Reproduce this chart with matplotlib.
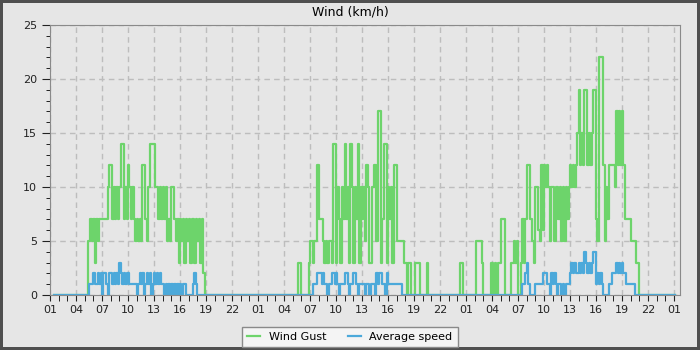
import numpy as np
import matplotlib
matplotlib.use("Agg")
import matplotlib.pyplot as plt
from matplotlib.ticker import MultipleLocator

# hours since 01:00 of the first day, one value every 10 minutes
series_start = 0.5
series_end = 72.1

d1_start = 4.33
d1_gust = [5, 5, 7, 5, 7, 3, 7, 5, 7, 7, 7, 7, 7, 7, 10, 12, 12, 7, 10, 7,
           10, 7, 10, 14, 14, 7, 10, 7, 12, 10, 7, 10, 7, 5, 7, 5, 7, 5, 12, 12,
           7, 5, 10, 14, 14, 14, 14, 10, 10, 7, 10, 7, 10, 7, 10, 5, 7, 5, 10, 10,
           7, 5, 7, 3, 7, 5, 7, 3, 7, 5, 7, 3, 7, 7, 3, 7, 5, 7, 3, 7,
           2, 0]
d1_avg = [0, 1, 1, 1, 2, 1, 1, 2, 1, 2, 0, 2, 2, 1, 0, 2, 2, 1, 2, 1,
          2, 1, 3, 2, 1, 2, 1, 2, 2, 1, 1, 1, 1, 1, 0, 1, 2, 1, 2, 0,
          1, 2, 1, 2, 0, 1, 2, 1, 2, 1, 2, 1, 1, 0, 1, 0, 1, 0, 1, 0,
          1, 0, 1, 0, 1, 0, 1, 1, 0, 0, 0, 0, 0, 1, 2, 1, 0, 0, 0, 0,
          0, 0]

d2_start = 28.5
d2_gust = [0, 3, 3, 0, 0, 0, 0, 0, 3, 5, 5, 3, 5, 5, 12, 7, 7, 7, 5, 3,
           5, 3, 5, 5, 3, 14, 14, 3, 10, 7, 3, 10, 7, 14, 7, 10, 3, 14, 10, 3,
           10, 7, 14, 3, 10, 7, 10, 5, 12, 10, 3, 3, 10, 12, 12, 5, 17, 17, 3, 7,
           14, 14, 3, 10, 7, 10, 3, 12, 12, 5, 5, 5, 5, 5, 3, 3, 0, 3, 3, 0,
           0, 0, 3, 3, 3, 0, 0, 0, 0, 0, 3, 0, 0]
d2_avg = [0, 0, 0, 0, 0, 0, 0, 0, 0, 0, 0, 1, 1, 1, 2, 2, 2, 1, 2, 1,
          1, 0, 1, 1, 2, 2, 1, 2, 1, 0, 1, 1, 1, 2, 2, 1, 0, 1, 1, 2,
          2, 1, 0, 1, 1, 1, 1, 0, 1, 1, 0, 1, 1, 1, 0, 2, 1, 2, 2, 1,
          1, 0, 2, 1, 1, 1, 1, 1, 1, 1, 1, 1, 1, 0, 0, 0, 0, 0, 0, 0,
          0, 0, 0, 0, 0, 0, 0, 0, 0, 0, 0, 0, 0]

d3_start = 47.0
d3_gust = [0, 0, 3, 3, 0, 0, 0, 0, 0, 0, 0, 0, 0, 5, 5, 5, 5, 3, 0, 0,
           0, 0, 0, 3, 3, 0, 3, 0, 3, 3, 7, 7, 7, 0, 0, 0, 0, 3, 3, 5,
           3, 5, 0, 0, 3, 7, 3, 7, 12, 12, 7, 7, 5, 3, 10, 10, 6, 5, 12, 6,
           12, 10, 12, 10, 5, 10, 10, 5, 10, 10, 7, 10, 5, 10, 5, 10, 7, 10, 12, 10,
           12, 10, 12, 15, 19, 12, 15, 12, 19, 19, 12, 15, 12, 15, 19, 19, 7, 5, 22, 22,
           22, 12, 5, 10, 7, 12, 12, 12, 12, 10, 17, 12, 17, 12, 17, 12, 7, 7, 7, 7,
           5, 5, 5, 5, 3, 3, 0]
d3_avg = [0, 0, 0, 0, 0, 0, 0, 0, 0, 0, 0, 0, 0, 0, 0, 0, 0, 0, 0, 0,
          0, 0, 0, 0, 0, 0, 0, 0, 0, 0, 0, 0, 0, 0, 0, 0, 0, 0, 0, 0,
          0, 0, 0, 0, 0, 1, 1, 2, 3, 1, 0, 0, 0, 0, 1, 1, 1, 1, 1, 2,
          2, 2, 1, 1, 0, 2, 1, 2, 1, 0, 1, 1, 0, 1, 0, 1, 1, 1, 2, 3,
          2, 3, 2, 2, 3, 2, 3, 2, 4, 3, 2, 3, 2, 3, 4, 4, 1, 2, 1, 2,
          1, 0, 0, 0, 0, 1, 1, 2, 2, 2, 3, 2, 3, 2, 3, 2, 2, 1, 1, 1,
          1, 1, 1, 0, 0, 0, 0]

tick_labels = ["01", "04", "07", "10", "13", "16", "19", "22"] * 3 + ["01"]

green = "#6dd46b"
blue = "#4ca9da"
bg = "#e6e6e6"


def build(parts):
    # glue the three daily windows onto a zero baseline
    t = [series_start]
    v = [0]
    for start, vals in parts:
        t += list(start + np.arange(len(vals)) / 6.0)
        v += list(vals)
    t.append(series_end)
    v.append(0)
    return np.array(t), np.array(v)


t_g, v_g = build([(d1_start, d1_gust), (d2_start, d2_gust), (d3_start, d3_gust)])
t_a, v_a = build([(d1_start, d1_avg), (d2_start, d2_avg), (d3_start, d3_avg)])

fig = plt.figure(figsize=(7, 3.5), dpi=100, facecolor=bg,
                 edgecolor="#4f4f4f", linewidth=3)
ax = fig.add_axes([50 / 700, 55 / 350, 630 / 700, 270 / 350])
ax.set_facecolor(bg)

ax.step(t_g, v_g, where="post", color=green, lw=1.6, label="Wind Gust")
ax.step(t_a, v_a, where="post", color=blue, lw=1.6, label="Average speed")

ax.set_xlim(0, 72.7)
ax.set_ylim(0, 25)
ax.set_xticks(np.arange(0, 73, 3))
ax.set_xticklabels(tick_labels)
ax.xaxis.set_minor_locator(MultipleLocator(1))
ax.yaxis.set_major_locator(MultipleLocator(5))
ax.yaxis.set_minor_locator(MultipleLocator(1))
ax.tick_params(axis="both", which="major", labelsize=8, colors="#222222")
ax.tick_params(axis="x", which="both", length=4)
ax.tick_params(axis="y", which="major", length=6)
ax.tick_params(axis="y", which="minor", length=3)

ax.grid(True, which="major", color="#bdbdbd", linestyle=(0, (4, 3)), lw=1)
ax.set_axisbelow(True)
for s in ax.spines.values():
    s.set_color("#8a8a8a")

fig.text(0.5, 1 - 12 / 350, "Wind (km/h)", fontsize=9, ha="center", va="center")

leg = fig.legend(loc="center", bbox_to_anchor=(0.5, 13 / 350), ncol=2,
                 fontsize=8, frameon=True, fancybox=False, handlelength=1.1,
                 columnspacing=2.0, borderpad=0.45)
leg.get_frame().set_facecolor("#f4f4f4")
leg.get_frame().set_edgecolor("#8a8a8a")
leg.get_frame().set_alpha(1)

fig.savefig("out.png", dpi=100, facecolor=bg, edgecolor=fig.get_edgecolor())
